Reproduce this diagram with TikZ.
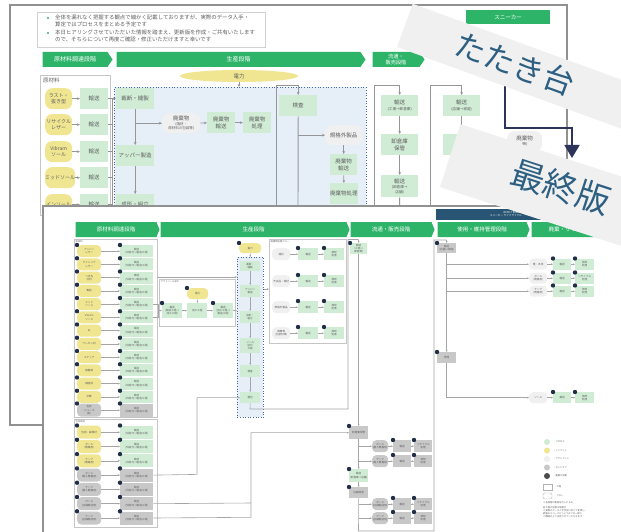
\documentclass[tikz,border=0pt]{standalone}
\usepackage{fontspec}
\setmainfont{Noto Sans CJK JP}
\usetikzlibrary{arrows.meta,shapes.geometric,shapes.symbols}
\definecolor{phgreen}{RGB}{46,180,105}
\definecolor{lgreen}{RGB}{208,236,213}
\definecolor{lyellow}{RGB}{240,230,145}
\definecolor{lblue}{RGB}{230,239,247}
\definecolor{dblue}{RGB}{70,105,160}
\definecolor{lgray}{RGB}{240,240,240}
\definecolor{mgray}{RGB}{200,200,200}
\definecolor{dotc}{RGB}{32,46,72}
\definecolor{framec}{RGB}{145,145,145}
\definecolor{bandc}{RGB}{240,240,240}
\definecolor{bandtext}{RGB}{45,95,130}
\definecolor{navy}{RGB}{45,52,90}
\definecolor{hdrc}{RGB}{40,85,115}
\definecolor{txtc}{RGB}{95,95,95}
\definecolor{lnc}{RGB}{150,150,150}
\definecolor{lnc2}{RGB}{165,165,165}
\newcommand\mydot[1]{\fill[dotc] (#1) circle (2.2pt);}
\tikzset{
 bk/.style={inner sep=0pt, align=center, text=txtc, anchor=north west, font=\fontsize{5.5}{6.6}\selectfont},
 bg/.style={bk, fill=lgreen},
 by/.style={bk, fill=lyellow, rounded corners=7pt, font=\fontsize{5}{6}\selectfont},
 bl/.style={bk, fill=lgray, rounded corners=7pt},
 ft/.style={inner sep=0pt, align=center, text=txtc, anchor=north west, font=\fontsize{2.6}{3.1}\selectfont},
 fg/.style={ft, fill=lgreen},
 fy/.style={ft, fill=lyellow, rounded corners=4pt},
 fl/.style={ft, fill=lgray, rounded corners=4pt},
 fm/.style={ft, fill=mgray},
 fmr/.style={ft, fill=mgray, rounded corners=4pt},
 barr/.style={draw=lnc, line width=0.7pt, -{Stealth[length=3pt,width=2.6pt]}},
 bln/.style={draw=lnc, line width=0.9pt},
 farr/.style={draw=lnc2, line width=0.5pt, -{Stealth[length=2pt,width=1.7pt]}},
 fln/.style={draw=lnc2, line width=0.6pt},
 bphase/.style={shape=signal, signal to=east, signal pointer angle=112, fill=phgreen, text=white, inner sep=0pt, font=\fontsize{6}{7}\selectfont},
 fphase/.style={shape=signal, signal to=east, signal pointer angle=136, fill=phgreen, text=white, inner sep=0pt, font=\fontsize{5.5}{6.5}\selectfont},
 cont/.style={draw=gray!45, line width=0.5pt, anchor=north west, inner sep=0pt},
 tinyt/.style={anchor=north west, inner sep=0pt, text=txtc, font=\fontsize{2.3}{2.8}\selectfont},
}
\begin{document}
\begin{tikzpicture}[x=1pt,y=-1pt]
\useasboundingbox (0,0) rectangle (621,532);
\fill[white] (0,0) rectangle (621,532);
%% ================= BACK SCREENSHOT (draft) =================
\fill[white] (10,5) rectangle (567,425);
\node[draw=gray!35, line width=0.6pt, anchor=north west, minimum width=228pt, minimum height=35pt, inner sep=0pt] (note) at (37,12) {};
\node[anchor=north west, align=left, inner sep=0pt, text=txtc, font=\fontsize{5.4}{7.6}\selectfont] (notetxt) at (55,14.3) {全体を漏れなく把握する観点で細かく記載しておりますが、実際のデータ入手・\\算定ではプロセスをまとめる予定です\\本日ヒアリングさせていただいた情報を踏まえ、更新版を作成・ご共有いたします\\ので、そちらについて再度ご確認・修正いただけますと幸いです};
\node[circle, fill=phgreen, inner sep=0pt, minimum size=2.4pt] (bul1) at (48,18) {};
\node[circle, fill=phgreen, inner sep=0pt, minimum size=2.4pt] (bul2) at (48,33) {};
\node[fill=phgreen, text=white, inner sep=0pt, anchor=north west, minimum width=84pt, minimum height=14pt, font=\fontsize{5.5}{6}\selectfont] (snk) at (466,10) {スニーカー};
\node[bphase, minimum width=70pt, minimum height=15pt] (bp1) at (75,59.5) {原材料調達段階};
\node[bphase, minimum width=249pt, minimum height=15pt] (bp2) at (238.5,59.5) {生産段階};
\node[bphase, minimum width=52pt, minimum height=15pt, align=center, font=\fontsize{5.2}{6}\selectfont] (bp3) at (396,59.5) {流通・\\販売段階};
\node[ellipse, fill=lyellow, minimum width=118pt, minimum height=12pt, inner sep=0pt, text=txtc, font=\fontsize{5.5}{6}\selectfont] (elec) at (239,76) {電力};
% raw material container
\node[cont, fill=white, minimum width=70pt, minimum height=140pt] (rawc) at (40,75) {};
\node[anchor=north west, inner sep=0pt, text=txtc, font=\fontsize{5.5}{6}\selectfont] (rawt) at (43,77.5) {原材料};
% production region
\node[draw=dblue, dotted, line width=0.7pt, fill=lblue, anchor=north west, minimum width=252pt, minimum height=140pt, inner sep=0pt] (bz0) at (114,87) {};
\draw[barr] (elec.south) -- (elec.south |- bz0.north);
\foreach \i/\yy/\t in {1/88/{ラスト・\\抜き型}, 2/114/{リサイクル\\レザー}, 3/141/{Vibram\\ソール}, 4/167/{ミッドソール}, 5/194/{インソール}} {
  \node[by, minimum width=27pt, minimum height=21pt] (by\i) at (45,\yy) {\t};
  \node[bg, minimum width=28pt, minimum height=21pt] (bt\i) at (80,\yy) {輸送};
  \draw[barr] (by\i) -- (bt\i);
  \draw[bln] (bt\i.east) -- ++(4.5,0);
}
\draw[bln] (112.5,98.5) -- (112.5,215);
\node[bg, minimum width=38pt, minimum height=21pt] (cut) at (116,88) {裁断・縫製};
\node[bg, minimum width=38pt, minimum height=21pt] (upper) at (116,145) {アッパー製造};
\node[bg, minimum width=38pt, minimum height=21pt] (mold) at (116,194) {成形・組立};
\draw[barr] (bt1.east) -- (cut.west);
\draw[barr] (cut) -- (upper);
\draw[barr] (upper) -- (mold);
\node[bl, minimum width=38pt, minimum height=20pt] (waste) at (162,113) {廃棄物\\[-1.5pt]{\fontsize{3.5}{4}\selectfont (端材・}\\[-2.5pt]{\fontsize{3.5}{4}\selectfont 原材料の包装等)}};
\node[bg, minimum width=28pt, minimum height=21pt] (wt) at (207,112) {廃棄物\\輸送};
\node[bg, minimum width=28pt, minimum height=21pt] (wp) at (243,112) {廃棄物\\処理};
\draw[barr] (cut.south |- waste.west) -- (waste.west);
\draw[barr] (waste) -- (wt);
\draw[barr] (wt) -- (wp);
\node[bg, minimum width=38pt, minimum height=21pt] (insp) at (279,95) {検査};
\draw[bln] (276,215) -- (276,85) -- (insp.north |- 0,85);
\draw[barr] (insp.north |- 0,85) -- (insp.north);
\draw[bln] (insp.south) -- (298,215);
\node[bl, minimum width=37pt, minimum height=20pt] (off) at (325,125) {規格外製品};
\draw[barr] (insp.south |- off.west) -- (off.west);
\node[bg, minimum width=27pt, minimum height=21pt] (offt) at (330,154) {廃棄物\\輸送};
\node[bg, minimum width=27pt, minimum height=21pt] (offp) at (330,183) {廃棄物処理};
\draw[barr] (off) -- (offt);
\draw[barr] (offt) -- (offp);
% distribution
\node[bg, minimum width=37pt, minimum height=21pt] (dt1) at (381,95) {輸送\\[-1pt]{\fontsize{3.6}{4}\selectfont (工場→卸倉庫)}};
\node[bg, minimum width=37pt, minimum height=21pt] (dt2) at (381,134) {卸倉庫\\保管};
\node[bg, minimum width=37pt, minimum height=22pt] (dt3) at (381,175) {輸送\\[-1pt]{\fontsize{3.6}{4}\selectfont (卸倉庫→}\\[-2pt]{\fontsize{3.6}{4}\selectfont 店舗)}};
\draw[bln] (374,215) -- (374,85) -- (dt1.north |- 0,85);
\draw[barr] (dt1.north |- 0,85) -- (dt1.north);
\draw[barr] (dt1) -- (dt2);
\draw[barr] (dt2) -- (dt3);
\draw[bln] (dt3.south) -- (399.5,215);
% use
\node[bg, minimum width=37pt, minimum height=21pt] (ut1) at (443,95) {輸送\\[-1pt]{\fontsize{3.6}{4}\selectfont (店舗→家庭)}};
\node[bg, minimum width=37pt, minimum height=21pt] (ut2) at (443,134) {};
\draw[bln] (430,215) -- (430,85) -- (ut1.north |- 0,85);
\draw[barr] (ut1.north |- 0,85) -- (ut1.north);
\draw[barr] (ut1) -- (ut2);
\node[bl, minimum width=35pt, minimum height=20pt] (uw) at (507,131) {廃棄物\\[-1pt]{\fontsize{3.5}{4}\selectfont (靴)}};
\draw[framec, line width=1.6pt] (10,5) rectangle (567,425);
%% ================= FRONT SCREENSHOT (final) =================
\fill[white] (43,206) rectangle (640,545);
\draw[framec, line width=1.6pt] (43,545) -- (43,206) -- (640,206);
\node[fill=hdrc, anchor=north west, minimum width=170pt, minimum height=11pt, inner sep=0pt] (hdr) at (436,209) {};
\node[text=white, font=\fontsize{2.6}{3.1}\selectfont, align=right, anchor=east, inner sep=0pt] (hdrt) at (522,214.5) {RENO TRAINER\\スニーカー ライフサイクル};
\node[fphase, minimum width=84pt, minimum height=15pt] (fp1) at (116,229.5) {原材料調達段階};
\node[fphase, minimum width=189pt, minimum height=15pt] (fp2) at (253.5,229.5) {生産段階};
\node[fphase, minimum width=84pt, minimum height=15pt] (fp3) at (391,229.5) {流通・販売段階};
\node[fphase, minimum width=92pt, minimum height=15pt] (fp4) at (482,229.5) {使用・維持管理段階};
\node[fphase, minimum width=92pt, minimum height=15pt] (fp5) at (576,229.5) {廃棄・リサイクル段階};
% container 1
\node[cont, minimum width=83pt, minimum height=178pt] (c1) at (74,239) {};
\node[tinyt] (c1t) at (75.5,240.3) {原材料};
\foreach \i/\t in {0/{アッパー\\レザー},1/{ライニング\\レザー},2/{つま先\\芯材},3/{靴紐},4/{ミッド\\ソール},5/{Vibram\\ソール},6/{糸},7/{ウレタン材},8/{ステッチ},9/{接着剤},10/{補強材},11/{中敷}} {
  \pgfmathsetmacro\yy{245+13.25*\i}
  \node[fy, minimum width=24pt, minimum height=12pt] (ry\i) at (77,\yy) {\t};
  \node[fg, minimum width=33pt, minimum height=12pt] (rg\i) at (120,\yy) {輸送\\(供給元→製造工場)};
  \draw[farr] (ry\i) -- (rg\i);
  \mydot{ry\i.north west}
  \mydot{rg\i.north west}
}
\node[fmr, minimum width=24pt, minimum height=13pt] (ry12) at (77,403.5) {包装\\(シューズ\\箱)};
\node[fm, minimum width=33pt, minimum height=13pt] (rg12) at (120,403.5) {輸送\\(供給元→製造工場)};
\draw[farr] (ry12) -- (rg12);
\mydot{ry12.north west}
\mydot{rg12.north west}
% container 2
\node[cont, minimum width=83pt, minimum height=108pt] (c2) at (74,419) {};
\node[tinyt] (c2t) at (75.5,420.3) {包装資材};
\foreach \j/\t/\s/\u in {0/{包装・緩衝材}/fy/fg,1/{ボール\\(靴箱用)}/fy/fg,2/{テープ\\(靴箱用)}/fy/fg,3/{ボール\\(輸入靴箱用)}/fmr/fm,4/{テープ\\(輸入靴箱用)}/fmr/fm,5/{ボール\\(店舗輸送用)}/fmr/fm,6/{テープ\\(店舗輸送用)}/fmr/fm} {
  \pgfmathsetmacro\yy{425.5+14.3*\j}
  \node[\s, minimum width=24pt, minimum height=13pt] (qy\j) at (77,\yy) {\t};
  \node[\u, minimum width=33pt, minimum height=13pt] (qg\j) at (120,\yy) {輸送\\(供給元→製造工場)};
  \draw[farr] (qy\j) -- (qg\j);
  \mydot{qy\j.north west}
  \mydot{qg\j.north west}
}
% processing sub-container
\node[cont, minimum width=76pt, minimum height=47pt] (cp) at (159,279) {};
\node[tinyt] (cpt) at (160.5,280.3) {アウトソール加工};
\node[fg, minimum width=20pt, minimum height=15pt] (m1) at (162,303) {輸送\\(製造工場→\\加工工場)};
\node[fg, minimum width=20pt, minimum height=15pt] (m2) at (187,303) {加工工程};
\node[fg, minimum width=20pt, minimum height=15pt] (m3) at (213,303) {輸送\\(加工工場→\\製造工場)};
\node[fy, minimum width=21pt, minimum height=11pt] (e2) at (187,288) {電力};
\draw[farr] (m1) -- (m2);
\draw[farr] (m2) -- (m3);
\draw[farr] (e2) -- (m2);
\mydot{m1.north west}
\mydot{m3.north west}
\mydot{e2.north west}
\draw[fln] (rg4.east) -| (158.5,310.5);
\draw[fln] (rg5.east) -| (158.5,310.5);
\draw[farr] (158.5,310.5) -- (m1.west);
% production column
\node[draw=dblue, dotted, line width=0.6pt, fill=lblue, anchor=north west, minimum width=26pt, minimum height=160pt, inner sep=0pt] (bz) at (237,257) {};
\draw[farr] (c1.east |- 0,277) -- (bz.west |- 0,277);
\node[fy, minimum width=22pt, minimum height=10pt] (e1) at (239,243) {電力};
\mydot{e1.north west}
\draw[farr] (e1) -- (bz.north);
\node[fg, minimum width=20pt, minimum height=10pt] (b1) at (240,261) {裁断・\\縫製};
\node[fg, minimum width=20pt, minimum height=12pt] (b2) at (240,285) {アッパー\\製造};
\node[fg, minimum width=20pt, minimum height=12pt] (b3) at (240,311) {成形・\\組立};
\node[fg, minimum width=20pt, minimum height=15pt] (b4) at (240,338) {ソール\\貼付\\工程};
\node[fg, minimum width=20pt, minimum height=12pt] (b5) at (240,365) {検査};
\node[fg, minimum width=20pt, minimum height=11pt] (b6) at (240,392) {梱包};
\draw[farr] (b1) -- (b2);
\draw[farr] (b2) -- (b3);
\draw[farr] (b3) -- (b4);
\draw[farr] (b4) -- (b5);
\draw[farr] (b5) -- (b6);
\draw[farr] (m3.east) -- (m3.east -| bz.west);
% waste container in production
\node[cont, minimum width=77pt, minimum height=104pt] (c3) at (269,239) {};
\node[tinyt] (c3t) at (270.5,240.3) {廃棄物処理フロー};
\draw[farr] (bz.east |- 0,289) -- (c3.west |- 0,289);
\foreach \k/\yy/\t/\p in {0/248/{端材}/{焼却\\処理},1/275/{不良品・端材}/{焼却\\処理},2/301/{規格外製品}/{焼却\\処理},3/327/{廃棄物\\(包装材等)}/{焼却\\処理}} {
  \node[fl, minimum width=18pt, minimum height=12pt] (wa\k) at (272,\yy) {\t};
  \node[fg, minimum width=20pt, minimum height=12pt] (wb\k) at (298,\yy) {輸送};
  \node[fg, minimum width=20pt, minimum height=12pt] (wc\k) at (324,\yy) {\p};
  \draw[farr] (wa\k) -- (wb\k);
  \draw[farr] (wb\k) -- (wc\k);
  \mydot{wb\k.north west}
  \mydot{wc\k.north west}
}
% distribution column
\node[fg, minimum width=17pt, minimum height=11pt] (d1) at (350,243) {輸送\\(工場→\\卸倉庫)};
\node[fm, minimum width=19pt, minimum height=13pt] (d2) at (349,426) {卸倉庫保管};
\node[fg, minimum width=19pt, minimum height=13pt] (d3) at (349,469) {輸送\\(卸倉庫→店舗)};
\node[fm, minimum width=19pt, minimum height=11pt] (d4) at (349,487) {店舗保管};
\mydot{d1.north west}
\mydot{d2.north west}
\mydot{d3.north west}
\mydot{d4.north west}
\draw[fln] (b6.south) -- (250,409) -- (348,409) -- (348,239.5) -- (d1.north |- 0,239.5);
\draw[farr] (d1.north |- 0,239.5) -- (d1.north);
\draw[farr] (d1) -- (d2);
\draw[farr] (d2) -- (d3);
\draw[farr] (d3) -- (d4);
\draw[fln] (qg3.east) -- (197,474.4) -- (197,397.5);
\draw[farr] (197,397.5) -- (b6.west);
\draw[fln] (qg5.east) -- (251,503);
\draw[fln] (qg6.east) -- (251,517.3) -- (251,432.5);
\draw[farr] (251,432.5) -- (d2.west);
\foreach \r/\yy/\t/\p in {1/440/{ボール\\(輸入靴箱用)}/{リサイクル\\処理},2/455/{テープ\\(輸入靴箱用)}/{焼却\\処理},3/498/{ボール\\(店舗輸送用)}/{リサイクル\\処理},4/512/{テープ\\(店舗輸送用)}/{焼却\\処理}} {
  \node[fmr, minimum width=16pt, minimum height=12pt] (ra\r) at (372,\yy) {\t};
  \node[fm, minimum width=18pt, minimum height=12pt] (rb\r) at (393,\yy) {輸送};
  \node[fm, minimum width=18pt, minimum height=12pt] (rc\r) at (414,\yy) {\p};
  \draw[farr] (d2.south |- ra\r.west) -- (ra\r.west);
  \draw[farr] (ra\r) -- (rb\r);
  \draw[farr] (rb\r) -- (rc\r);
  \mydot{rb\r.north west}
  \mydot{rc\r.north west}
}
% use column
\node[fm, minimum width=19pt, minimum height=10pt] (u1) at (437,243) {輸送\\(店舗→家庭)};
\node[fm, minimum width=19pt, minimum height=11pt] (u2) at (437,352) {修理};
\mydot{u1.north west}
\mydot{u2.north west}
\draw[fln] (d4.south) -- (358.5,531) -- (434,531) -- (434,240) -- (u1.north |- 0,240);
\draw[farr] (u1.north |- 0,240) -- (u1.north);
\draw[farr] (u1) -- (u2);
\foreach \s/\yy/\t/\p in {1/258.5/{靴・本体}/{焼却\\処理},2/272.5/{ボール\\(靴箱用)}/{リサイクル\\処理},3/285.5/{テープ\\(靴箱用)}/{焼却\\処理},4/392/{ソール}/{焼却\\処理}} {
  \node[fl, minimum width=18pt, minimum height=11pt] (sa\s) at (529,\yy) {\t};
  \node[fg, minimum width=18pt, minimum height=11pt] (sb\s) at (553,\yy) {輸送};
  \node[fg, minimum width=19pt, minimum height=11pt] (sc\s) at (575,\yy) {\p};
  \draw[farr] (sa\s) -- (sb\s);
  \draw[farr] (sb\s) -- (sc\s);
  \mydot{sb\s.north west}
  \mydot{sc\s.north west}
}
\draw[farr] (u1.south |- sa1.west) -- (sa1.west);
\draw[farr] (u1.south |- sa2.west) -- (sa2.west);
\draw[farr] (u1.south |- sa3.west) -- (sa3.west);
\draw[fln] (u2.south) -- (u2.south |- sa4.west);
\draw[farr] (u2.south |- sa4.west) -- (sa4.west);
% legend
\node[circle, fill=lgreen, inner sep=0pt, minimum size=6pt] (lg1) at (547,442) {};
\node[circle, fill=lyellow, inner sep=0pt, minimum size=6pt] (lg2) at (547,450.5) {};
\node[circle, fill=lgray, inner sep=0pt, minimum size=6pt] (lg3) at (547,459) {};
\node[circle, fill=mgray, inner sep=0pt, minimum size=6pt] (lg4) at (547,467.5) {};
\node[circle, fill=black!70, inner sep=0pt, minimum size=6pt] (lg5) at (547,476) {};
\node[draw=gray!60, line width=0.4pt, inner sep=0pt, minimum width=9pt, minimum height=6pt] (lg6) at (547.5,487) {};
\node[draw=gray!60, line width=0.4pt, rounded corners=2pt, inner sep=0pt, minimum width=9pt, minimum height=6pt] (lg7) at (547.5,496) {};
\node[tinyt, anchor=west] (lt1) at (553,442) {：プロセス};
\node[tinyt, anchor=west] (lt2) at (553,450.5) {：インプット};
\node[tinyt, anchor=west] (lt3) at (553,459) {：アウトプット};
\node[tinyt, anchor=west] (lt4) at (553,467.5) {：カットオフ};
\node[tinyt, anchor=west] (lt5) at (553,476) {：重要な活動};
\node[tinyt, anchor=west] (lt6) at (554,487) {：工程};
\node[tinyt, anchor=west] (lt7) at (554,496) {：フロー};
\node[tinyt, align=left] (lt8) at (543,501) {※各段階の範囲を示したもの};
\node[tinyt, align=left] (lt9) at (543,506.5) {各工程の位置は仮置き\\※実際のデータ入手状況に応じて変更し、\\調査のスコープについてはフロー図と\\ご確認の上で決定させていただきます};
%% ================= LABEL BANDS =================
\coordinate (a0) at (505,80);
\coordinate (a1) at (572,158);
\draw[navy, line width=1.8pt, -{Triangle[length=13pt,width=15pt]}] (a0) -- (505,128) -| (a1);
\begin{scope}[shift={(397,47)}, rotate=-20]
  \fill[bandc] (0,0) rectangle (330,-46);
\end{scope}
\node[rotate=-20, text=bandtext, inner sep=0pt, font=\fontsize{31}{31}\selectfont] (tt) at (515,64) {たたき台};
\begin{scope}[shift={(440,187)}, rotate=-18]
  \fill[bandc] (0,0) rectangle (260,-66);
\end{scope}
\node[rotate=-18, text=bandtext, inner sep=0pt, font=\fontsize{34}{34}\selectfont] (sf) at (561,187) {最終版};
\end{tikzpicture}
\end{document}
